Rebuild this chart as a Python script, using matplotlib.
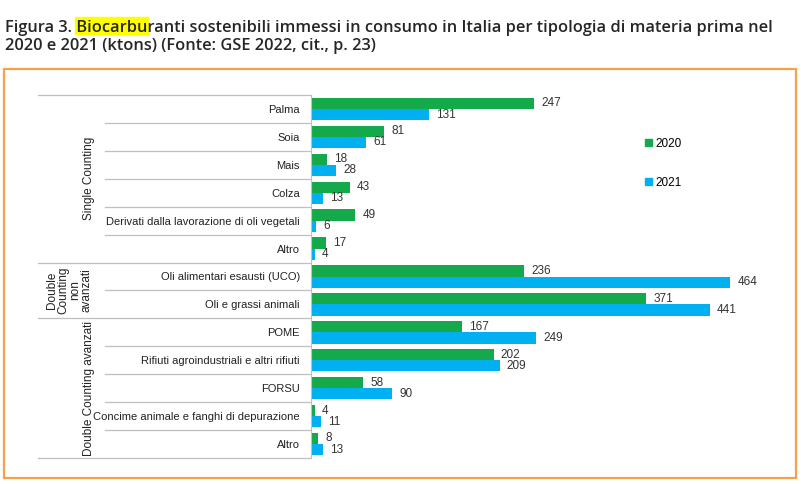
import matplotlib.pyplot as plt
from matplotlib.patches import Rectangle, Patch

categories = [
    "Palma", "Soia", "Mais", "Colza",
    "Derivati dalla lavorazione di oli vegetali", "Altro",
    "Oli alimentari esausti (UCO)", "Oli e grassi animali",
    "POME", "Rifiuti agroindustriali e altri rifiuti", "FORSU",
    "Concime animale e fanghi di depurazione", "Altro",
]
values_2020 = [247, 81, 18, 43, 49, 17, 236, 371, 167, 202, 58, 4, 8]
values_2021 = [131, 61, 28, 13, 6, 4, 464, 441, 249, 209, 90, 11, 13]
groups = [
    ("Single Counting", 0, 5),
    ("Double\nCounting\nnon\navanzati", 6, 7),
    ("Double Counting avanzati", 8, 12),
]
title_1 = "Figura 3. Biocarburanti sostenibili immessi in consumo in Italia per tipologia di materia prima nel"
title_2 = "2020 e 2021 (ktons) (Fonte: GSE 2022, cit., p. 23)"
highlight = "Biocarbu"

GREEN = "#14A94B"
BLUE = "#00B0F0"
GRID = "#BFBFBF"
W, H = 802, 484
LABEL_FONT = ["Liberation Sans", "DejaVu Sans"]

plt.rcParams["font.family"] = ["Open Sans", "DejaVu Sans"]
fig = plt.figure(figsize=(W / 100, H / 100), dpi=100)


def fx(px):
    return px / W


def fy(py):
    return 1 - py / H


# orange frame
fig.patches.append(Rectangle((fx(4), fy(478)), fx(792), (478 - 69) / H,
                             transform=fig.transFigure, fill=False,
                             edgecolor="#F7A24A", lw=1.6))

ax_left, ax_right, ax_top, ax_bot = 311, 790, 95, 458
ax = fig.add_axes([fx(ax_left), fy(ax_bot), (ax_right - ax_left) / W,
                   (ax_bot - ax_top) / H])

ys = list(range(len(categories)))
bh = 0.4
b1 = ax.barh([y - bh / 2 for y in ys], values_2020, height=bh, color=GREEN,
             label="2020")
b2 = ax.barh([y + bh / 2 for y in ys], values_2021, height=bh, color=BLUE,
             label="2021")
for bars in (b1, b2):
    ax.bar_label(bars, padding=5, fontsize=8.5, color="#333333",
                 family=LABEL_FONT)

ax.set_xlim(0, 530)
ax.set_ylim(len(categories) - 0.5, -0.5)
ax.set_xticks([])
ax.set_yticks(ys)
ax.set_yticklabels(categories, fontsize=8, color="#222222", family=LABEL_FONT)
ax.tick_params(axis="y", length=0, pad=8)
for s in ["top", "right", "bottom"]:
    ax.spines[s].set_visible(False)
ax.spines["left"].set_color(GRID)

# separator lines and group labels
tr = ax.get_yaxis_transform()
x_outer = (38 - ax_left) / (ax_right - ax_left)
x_inner = (105 - ax_left) / (ax_right - ax_left)
group_edges = {-0.5}
for _, a, b in groups:
    group_edges.add(b + 0.5)
for i in range(len(categories) + 1):
    yb = i - 0.5
    x0 = x_outer if yb in group_edges else x_inner
    ax.plot([x0, 0], [yb, yb], transform=tr, color=GRID, lw=0.9,
            clip_on=False)

for name, a, b in groups:
    xc = 69 if "\n" in name else 89
    ax.text((xc - ax_left) / (ax_right - ax_left), (a + b) / 2, name,
            transform=tr, rotation=90, ha="center", va="center",
            fontsize=8.5, color="#222222", family=LABEL_FONT,
            multialignment="center", linespacing=0.95)

ax.legend(handles=[Patch(color=GREEN, label="2020"),
                   Patch(color=BLUE, label="2021")],
          loc="upper left", bbox_to_anchor=(fx(634), fy(127)),
          bbox_transform=fig.transFigure, frameon=False,
          handlelength=0.6, handleheight=0.6, handletextpad=0.3,
          labelspacing=2.3, prop={"family": "Liberation Sans", "size": 8.5})

# title with highlighted word
tkw = dict(fontweight="semibold", color="#262626", va="baseline", ha="left")
t1 = fig.text(fx(5), fy(32), title_1, fontsize=12, **tkw)
fig.canvas.draw()
r = fig.canvas.get_renderer()
w = t1.get_window_extent(r).width
size = 12 * 767 / w
t1.set_fontsize(size)
t2 = fig.text(fx(5), fy(50), title_2, fontsize=size, **tkw)

pre = fig.text(0, 0, "Figura 3. " + highlight, fontsize=size, **tkw)
word = fig.text(0, 0, highlight, fontsize=size, **tkw)
wp = pre.get_window_extent(r).width
ww = word.get_window_extent(r).width
pre.remove()
word.remove()
x0 = 5 + wp - ww
fig.patches.append(Rectangle((fx(x0 - 1), fy(34)), fx(ww + 2), 17 / H,
                             transform=fig.transFigure, color="#FFFF00",
                             zorder=-1))

fig.savefig("out.png", dpi=100)
